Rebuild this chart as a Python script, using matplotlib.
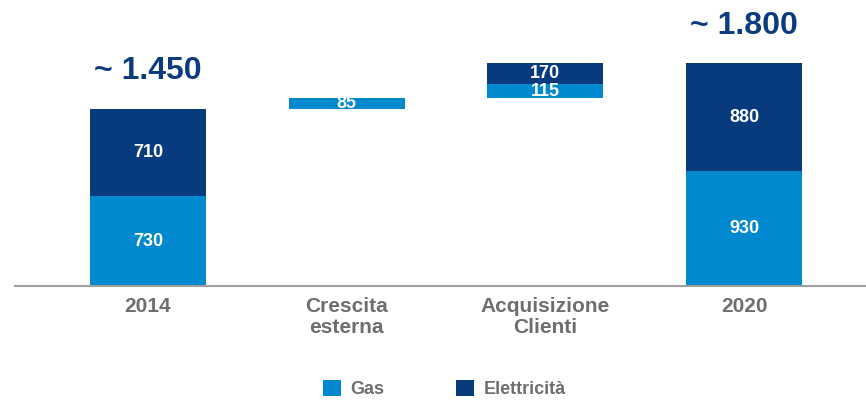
import matplotlib.pyplot as plt

plt.rcParams['font.family'] = ['Liberation Sans', 'DejaVu Sans']

categories = ["2014", "Crescita\nesterna", "Acquisizione\nClienti", "2020"]
gas = [730, 85, 115, 930]
elettricita = [710, 0, 170, 880]
totals = {0: "~ 1.450", 3: "~ 1.800"}

GAS_COL = '#0089cf'
ELE_COL = '#073b7e'
GREY = '#6d6e71'

# waterfall bottoms: first and last bars start at zero, the middle ones float
gas_bottom = []
running = 0
for i in range(len(categories)):
    if i == 0 or i == len(categories) - 1:
        gas_bottom.append(0)
    else:
        gas_bottom.append(running)
    running = gas_bottom[i] + gas[i] + elettricita[i]
ele_bottom = [b + g for b, g in zip(gas_bottom, gas)]

fig = plt.figure(figsize=(8.66, 4.0), dpi=100)
ax = fig.add_axes([15 / 866, 114 / 400, 851 / 866, 286 / 400])

x = range(len(categories))
b1 = ax.bar(x, gas, 0.584, bottom=gas_bottom, color=GAS_COL, label='Gas')
b2 = ax.bar(x, elettricita, 0.584, bottom=ele_bottom, color=ELE_COL, label='Elettricità')

for i in x:
    if gas[i] > 0:
        ax.text(i, gas_bottom[i] + gas[i] / 2, str(gas[i]), ha='center', va='center',
                color='white', fontsize=13, fontweight='bold')
    if elettricita[i] > 0:
        ax.text(i, ele_bottom[i] + elettricita[i] / 2, str(elettricita[i]), ha='center',
                va='center', color='white', fontsize=13, fontweight='bold')
for i, t in totals.items():
    ax.annotate(t, (i, gas[i] + elettricita[i]), xytext=(0, 21), textcoords='offset points',
                ha='center', va='baseline', color='#0d3b80', fontsize=23, fontweight='bold')

ax.set_xlim(-0.669, 3.613)
ax.set_ylim(0, 2321)
for s in ['top', 'right', 'left']:
    ax.spines[s].set_visible(False)
ax.spines['bottom'].set_color('#a0a0a0')
ax.spines['bottom'].set_linewidth(1.5)
ax.set_yticks([])
ax.set_xticks(list(x))
ax.set_xticklabels(categories, fontsize=15, fontweight='bold', color=GREY, linespacing=1.1)
ax.tick_params(axis='x', length=0, pad=8)

fig.legend(handles=[b1, b2], loc='upper left', bbox_to_anchor=(323 / 866, 20 / 400),
           ncol=2, frameon=False, borderpad=0, borderaxespad=0, handlelength=1,
           handleheight=1, handletextpad=0.5, columnspacing=4,
           prop={'size': 13, 'weight': 'bold'}, labelcolor=GREY)

fig.savefig('out.png', dpi=100)
